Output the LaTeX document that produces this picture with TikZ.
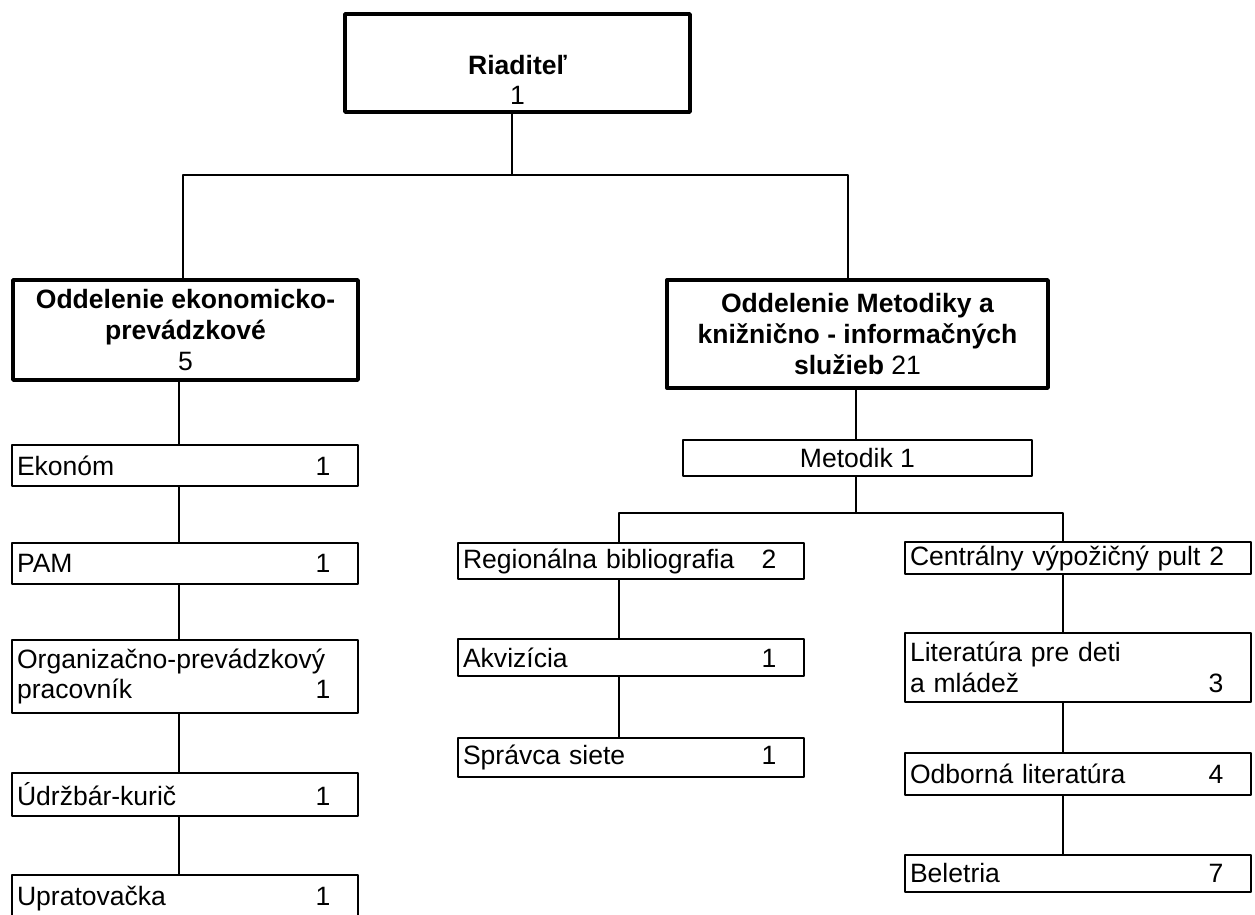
\documentclass[tikz,border=0pt]{standalone}
\usepackage{fontspec}
\setmainfont{Liberation Sans}
\newcommand{\pocet}[1]{\hspace*{\fill}#1\rule{0.45cm}{0pt}}
\begin{document}
\begin{tikzpicture}[x=0.02cm, y=-0.02cm, font=\fontsize{15.1}{17.5}\selectfont, line join=round,
	head/.style={draw, line width=2pt, inner sep=0pt, align=center},
	unit/.style={draw, line width=1.2pt, inner xsep=0.1cm, inner ysep=0pt, text width=6.72cm, align=left},
	link/.style={line width=1pt}]
	\useasboundingbox (0,0) rectangle (1255,914);
	% vedenie
	\node[head, minimum width=6.9cm, minimum height=1.96cm] (rd) at (517.5,63) {};
	\node[align=center, inner sep=0pt] (rdt) at (517.5,80) {\textbf{Riaditeľ}\\1};
	\node[head, minimum width=6.9cm, minimum height=2cm] (oe) at (185.5,330)
		{\textbf{Oddelenie ekonomicko-}\\\textbf{prevádzkové}\\5};
	\node[head, minimum width=7.62cm, minimum height=2.16cm] (om) at (857.5,334)
		{\textbf{Oddelenie Metodiky a}\\\textbf{knižnično - informačných}\\\textbf{služieb} 21};
	\node[draw, line width=1.2pt, inner sep=0pt, minimum width=6.98cm, minimum height=0.72cm] (mt) at (857.5,458) {Metodik 1};
	% ekonomicko-prevadzkove
	\node[unit, minimum height=0.82cm] (ek) at (185,465.5) {Ekonóm\pocet{1}};
	\node[unit, minimum height=0.82cm] (pam) at (185,563.5) {PAM\pocet{1}};
	\node[unit, minimum height=1.46cm] (org) at (185,676.5) {Organizačno-prevádzkový\\pracovník\pocet{1}};
	\node[unit, minimum height=0.86cm] (udr) at (185,794.5) {Údržbár-kurič\pocet{1}};
	\node[unit, minimum height=0.96cm, anchor=north] (upr) at (185,874) {Upratovačka\pocet{1}};
	% metodika
	\node[unit, minimum height=0.72cm] (reg) at (631,561) {Regionálna bibliografia\pocet{2}};
	\node[unit, minimum height=0.74cm] (akv) at (631,657.5) {Akvizícia\pocet{1}};
	\node[unit, minimum height=0.78cm] (spr) at (631,757.5) {Správca siete\pocet{1}};
	\node[unit, minimum height=0.64cm] (cen) at (1078,558) {Centrálny výpožičný pult 2};
	\node[unit, minimum height=1.38cm] (lit) at (1078,667.5) {Literatúra pre deti\\a mládež\pocet{3}};
	\node[unit, minimum height=0.84cm] (odb) at (1078,774) {Odborná literatúra\pocet{4}};
	\node[unit, minimum height=0.74cm] (bel) at (1078,873.5) {Beletria\pocet{7}};
	% spoje
	\coordinate (j1) at (512,175);
	\coordinate (j1l) at (183,175);
	\coordinate (j1r) at (848,175);
	\coordinate (j2) at (856,513);
	\coordinate (j2l) at (619,513);
	\coordinate (j2r) at (1063,513);
	\coordinate (sl) at (179,0);
	\draw[link] (rd.south -| j1) -- (j1);
	\draw[link] (oe.north -| j1l) |- (j1r) -- (om.north -| j1r);
	\draw[link] (om.south -| j2) -- (mt.north -| j2);
	\draw[link] (mt.south -| j2) -- (j2);
	\draw[link] (reg.north -| j2l) |- (j2r) -- (cen.north -| j2r);
	\foreach \a/\b in {oe/ek, ek/pam, pam/org, org/udr, udr/upr}
		\draw[link] (\a.south -| sl) -- (\b.north -| sl);
	\foreach \a/\b in {reg/akv, akv/spr}
		\draw[link] (\a.south -| j2l) -- (\b.north -| j2l);
	\foreach \a/\b in {cen/lit, lit/odb, odb/bel}
		\draw[link] (\a.south -| j2r) -- (\b.north -| j2r);
\end{tikzpicture}
\end{document}
